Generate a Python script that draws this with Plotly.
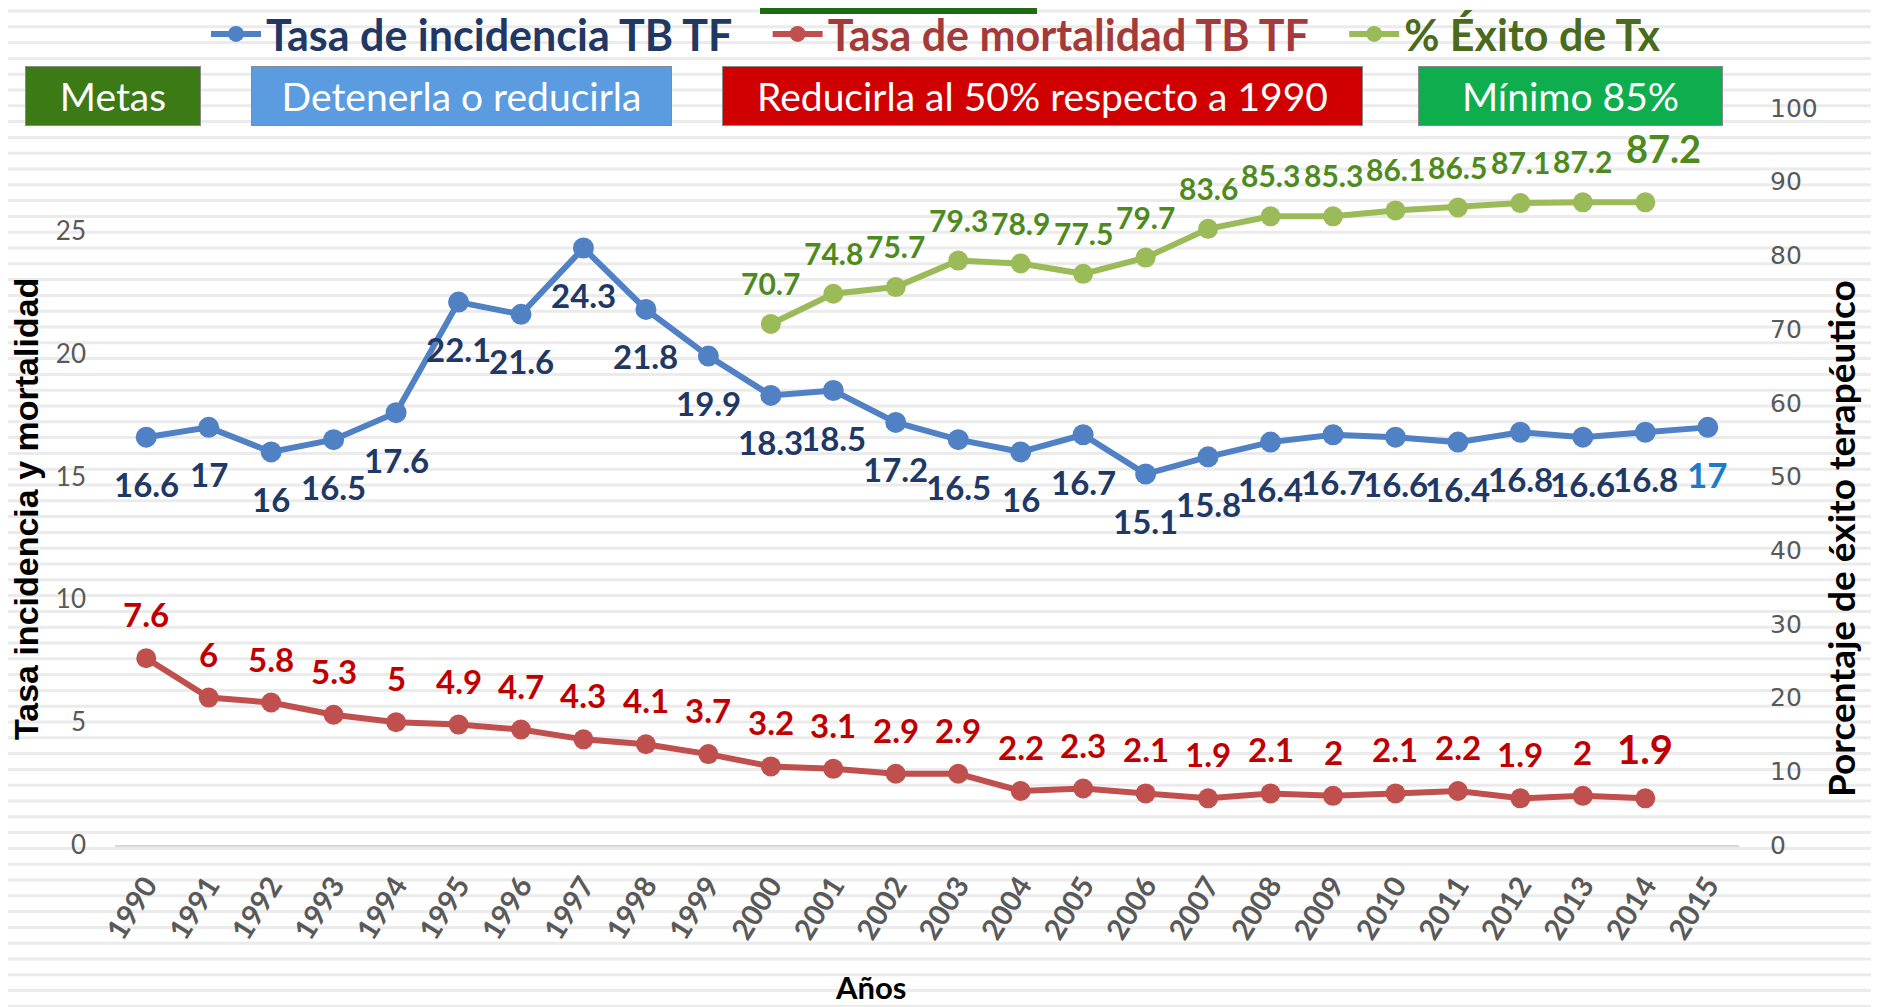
import plotly.graph_objects as go

# ---------------- data ----------------
years = list(range(1990, 2016))
incidencia = [16.6, 17, 16, 16.5, 17.6, 22.1, 21.6, 24.3, 21.8, 19.9, 18.3, 18.5, 17.2,
              16.5, 16, 16.7, 15.1, 15.8, 16.4, 16.7, 16.6, 16.4, 16.8, 16.6, 16.8, 17]
mort_years = list(range(1990, 2015))
mortalidad = [7.6, 6, 5.8, 5.3, 5, 4.9, 4.7, 4.3, 4.1, 3.7, 3.2, 3.1, 2.9, 2.9, 2.2,
              2.3, 2.1, 1.9, 2.1, 2, 2.1, 2.2, 1.9, 2, 1.9]
exito_years = list(range(2000, 2015))
exito = [70.7, 74.8, 75.7, 79.3, 78.9, 77.5, 79.7, 83.6, 85.3, 85.3, 86.1, 86.5, 87.1, 87.2, 87.2]

serie_names = ["Tasa de incidencia TB TF", "Tasa de mortalidad TB TF", "% Éxito de Tx"]
metas = ["Metas", "Detenerla o reducirla", "Reducirla al 50% respecto a 1990", "Mínimo 85%"]
y_title_left = "Tasa incidencia y mortalidad"
y_title_right = "Porcentaje de éxito terapéutico"
x_title = "Años"

# ---------------- layout helpers ----------------
OFF = 8                      # page body margin offset
W, H = 1879 - OFF, 1007 - OFF
L, R, T, B = 107, 140, 100, 162
PW, PH = W - L - R, H - T - B


def px(xp):
    """full-page pixel x -> paper fraction"""
    return (xp - OFF - L) / PW


def py(yp):
    """full-page pixel y -> paper fraction"""
    return (H - B - (yp - OFF)) / PH


BLUE, RED, GREEN = "#4F81C4", "#C0504D", "#9BBB59"
NB = "\u00a0" * 3

fig = go.Figure()
fig.add_trace(go.Scatter(
    x=years, y=incidencia, mode="lines+markers",
    name=f'<span style="color:#1F3864">{serie_names[0]}</span>{NB}',
    line=dict(color=BLUE, width=6), marker=dict(color=BLUE, size=21)))
fig.add_trace(go.Scatter(
    x=mort_years, y=mortalidad, mode="lines+markers",
    name=f'<span style="color:#A23B3A">{serie_names[1]}</span>{NB}',
    line=dict(color=RED, width=6), marker=dict(color=RED, size=20)))
fig.add_trace(go.Scatter(
    x=exito_years, y=exito, mode="lines+markers", yaxis="y2",
    name=f'<span style="color:#4A6B1C">{serie_names[2]}</span>',
    line=dict(color=GREEN, width=6), marker=dict(color=GREEN, size=20)))

annotations = []
# data labels
for i, (x, v) in enumerate(zip(years, incidencia)):
    last = i == len(years) - 1
    annotations.append(dict(x=x, y=v, xref="x", yref="y", text=f"{v:g}", showarrow=False,
                            yshift=-47, font=dict(family="Lato", size=35 if last else 33,
                                                  color="#1E7BC8" if last else "#1F3864",
                                                  weight="bold")))
for i, (x, v) in enumerate(zip(mort_years, mortalidad)):
    last = i == len(mort_years) - 1
    annotations.append(dict(x=x, y=v, xref="x", yref="y", text=f"{v:g}", showarrow=False,
                            yshift=49 if last else 44,
                            font=dict(family="Lato", size=40 if last else 33, color="#C00000",
                                      weight="bold")))
for i, (x, v) in enumerate(zip(exito_years, exito)):
    last = i == len(exito_years) - 1
    annotations.append(dict(x=x, y=v, xref="x", yref="y2", text=f"{v:g}", showarrow=False,
                            yshift=54 if last else 41, xshift=18 if last else 0,
                            font=dict(family="Lato", size=38 if last else 30, color="#4E8A1E",
                                      weight="bold")))

# goal boxes
boxes = [
    (26, 200, "#3C7A16", metas[0]),
    (252, 671, "#5B9BDF", metas[1]),
    (723, 1362, "#D00000", metas[2]),
    (1419, 1722, "#0EAE4E", metas[3]),
]
for x0, x1, col, txt in boxes:
    annotations.append(dict(x=px((x0 + x1) / 2), y=py(96), xref="paper", yref="paper",
                            text=txt, showarrow=False, xanchor="center", yanchor="middle",
                            width=x1 - x0, height=58, bgcolor=col, bordercolor="#8A8A8A",
                            borderwidth=1, borderpad=0,
                            font=dict(family="Lato", size=39, color="white")))

# axis titles
annotations.append(dict(x=px(26), y=py(509), xref="paper", yref="paper", text=y_title_left,
                        textangle=-90, showarrow=False, xanchor="center", yanchor="middle",
                        font=dict(family="Liberation Sans", size=34, color="black", weight="bold")))
annotations.append(dict(x=px(1840), y=py(539), xref="paper", yref="paper", text=y_title_right,
                        textangle=-90, showarrow=False, xanchor="center", yanchor="middle",
                        font=dict(family="Lato", size=37, color="black", weight="bold")))
annotations.append(dict(x=px(870), y=py(987), xref="paper", yref="paper", text=x_title,
                        showarrow=False, xanchor="center", yanchor="middle",
                        font=dict(family="Lato", size=31, color="black", weight="bold")))

# decorative background stripes
shapes = []
yy = 11.0
while yy < 1007:
    shapes.append(dict(type="line", xref="paper", yref="paper", x0=px(0), x1=px(1879),
                       y0=py(yy), y1=py(yy), line=dict(color="#EBEBEB", width=3), layer="below"))
    yy += 15.8
# top dark green bar
shapes.append(dict(type="rect", xref="paper", yref="paper", x0=px(760), x1=px(1037),
                   y0=py(14), y1=py(6), fillcolor="#1E6B12", line=dict(width=0)))

fig.update_layout(
    width=W, height=H, autosize=False,
    margin=dict(l=L, r=R, t=T, b=B, autoexpand=False),
    paper_bgcolor="white", plot_bgcolor="rgba(0,0,0,0)",
    showlegend=True,
    legend=dict(orientation="h", x=(936 - OFF) / W, y=1 - (34 - OFF) / H,
                xref="container", yref="container", xanchor="center", yanchor="middle",
                font=dict(family="Lato", size=43, weight="bold"), bgcolor="rgba(0,0,0,0)",
                itemwidth=50, tracegroupgap=0),
    xaxis=dict(range=[1989.5, 2015.5], tickmode="array", tickvals=years,
               ticktext=[str(y) for y in years], tickangle=-58, showgrid=False,
               zeroline=False, showline=True, linecolor="#D9D9D9", linewidth=2,
               ticks="", ticklabelstandoff=10, automargin=False,
               tickfont=dict(family="Lato", size=29, color="#595959", weight="bold")),
    yaxis=dict(range=[0, 30], dtick=5, showgrid=False, zeroline=False, showline=False,
               ticks="", ticklabelstandoff=28, automargin=False,
               tickfont=dict(family="Lato", size=26, color="#595959")),
    yaxis2=dict(range=[0, 100], dtick=10, overlaying="y", side="right", showgrid=False,
                zeroline=False, showline=False, ticks="", ticklabelstandoff=30, automargin=False,
                tickfont=dict(family="DejaVu Sans", size=25, color="#595959")),
    annotations=annotations,
    shapes=shapes,
)

fig.write_html("out.html")
